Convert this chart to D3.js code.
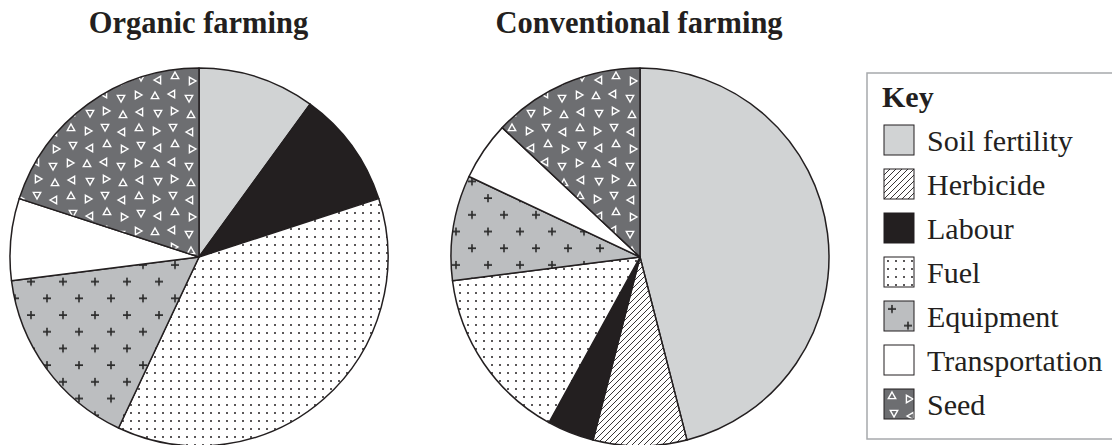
<!DOCTYPE html>
<html>
<head>
<meta charset="utf-8">
<script src="https://cdn.jsdelivr.net/npm/d3@7"></script>
<style>
  body { margin: 0; background: #fff; }
  svg { display: block; }
</style>
</head>
<body>
<svg id="chart" width="1112" height="445"></svg>
<script>
// Data
const categories = ["Soil fertility", "Herbicide", "Labour", "Fuel", "Equipment", "Transportation", "Seed"];
const organicValues = [10, 0, 10, 37, 16, 7, 20];
const conventionalValues = [46, 8, 4, 15, 9, 5, 13];
const chartTitles = ["Organic farming", "Conventional farming"];
const legendTitle = "Key";

const svg = d3.select("#chart");
const defs = svg.append("defs");
const ink = "#231f20";
const serif = "'Liberation Serif', 'Times New Roman', Times, serif";

// Patterns
// herbicide: diagonal hatch
const hatch = defs.append("pattern").attr("id", "p-herbicide")
  .attr("patternUnits", "userSpaceOnUse").attr("width", 6).attr("height", 6);
hatch.append("rect").attr("width", 6).attr("height", 6).attr("fill", "#fff");
hatch.append("path").attr("d", "M-1,1 l2,-2 M0,6 l6,-6 M5,7 l2,-2")
  .attr("stroke", ink).attr("stroke-width", 0.9);

// fuel: dot grid
const dots = defs.append("pattern").attr("id", "p-fuel")
  .attr("patternUnits", "userSpaceOnUse").attr("width", 8).attr("height", 8);
dots.append("rect").attr("width", 8).attr("height", 8).attr("fill", "#fff");
dots.append("circle").attr("cx", 4).attr("cy", 4).attr("r", 1).attr("fill", ink);

// equipment: grey with crosses
const plus = defs.append("pattern").attr("id", "p-equipment")
  .attr("patternUnits", "userSpaceOnUse").attr("width", 32).attr("height", 33.4);
plus.append("rect").attr("width", 32).attr("height", 33.4).attr("fill", "#bcbec0");
[[8, 8], [24, 24.7]].forEach(([cx, cy]) => {
  plus.append("path")
    .attr("d", `M${cx - 4},${cy} h8 M${cx},${cy - 4} v8`)
    .attr("stroke", "#2b2b2b").attr("stroke-width", 1.6);
});

// seed: dark grey with white outlined triangles in mixed directions
const tri = defs.append("pattern").attr("id", "p-seed")
  .attr("patternUnits", "userSpaceOnUse").attr("width", 68).attr("height", 68);
tri.append("rect").attr("width", 68).attr("height", 68).attr("fill", "#6d6e71");
const triSpots = [
  [8, 7, 0], [25, 10, 90], [42, 6, 180], [59, 11, 270],
  [10, 24, 180], [27, 27, 270], [44, 23, 0], [61, 28, 90],
  [7, 42, 90], [24, 43, 0], [41, 41, 270], [58, 45, 180],
  [9, 59, 270], [27, 60, 180], [43, 58, 90], [60, 62, 0]
];
triSpots.forEach(([cx, cy, rot]) => {
  tri.append("path")
    .attr("d", "M0,-4 L3.7,2.6 L-3.7,2.6 Z")
    .attr("transform", `translate(${cx},${cy}) rotate(${rot})`)
    .attr("fill", "none").attr("stroke", "#fff").attr("stroke-width", 1.4);
});

const fills = ["#d1d3d4", "url(#p-herbicide)", ink, "url(#p-fuel)", "url(#p-equipment)", "#fff", "url(#p-seed)"];
const color = d3.scaleOrdinal().domain(categories).range(fills);

// Pies
const radius = 189;
const centres = [[199, 257], [640, 257]];
const pie = d3.pie().sort(null).value(d => d.value);
const arc = d3.arc().innerRadius(0).outerRadius(radius);

[organicValues, conventionalValues].forEach((vals, i) => {
  const rows = categories.map((c, j) => ({ key: c, value: vals[j] })).filter(d => d.value > 0);
  const g = svg.append("g").attr("transform", `translate(${centres[i][0]},${centres[i][1]})`);
  g.selectAll("path").data(pie(rows)).join("path")
    .attr("d", arc)
    .attr("fill", d => color(d.data.key))
    .attr("stroke", ink)
    .attr("stroke-width", 1.5)
    .attr("stroke-linejoin", "round");

  svg.append("text")
    .attr("x", i === 0 ? 198.5 : 639)
    .attr("y", 33)
    .attr("text-anchor", "middle")
    .attr("font-family", serif)
    .attr("font-size", 30.5)
    .attr("font-weight", "bold")
    .attr("fill", ink)
    .text(chartTitles[i]);
});

// Legend
const legend = svg.append("g");
legend.append("rect")
  .attr("x", 867).attr("y", 73).attr("width", 260).attr("height", 366)
  .attr("fill", "#fff").attr("stroke", "#a7a9ac").attr("stroke-width", 1.5);
legend.append("text")
  .attr("x", 882).attr("y", 107)
  .attr("font-family", serif)
  .attr("font-size", 30).attr("font-weight", "bold")
  .attr("fill", ink)
  .text(legendTitle);

const rowY = d3.scalePoint().domain(categories).range([125, 389]);
const item = legend.selectAll("g.item").data(categories).join("g")
  .attr("class", "item")
  .attr("transform", d => `translate(884,${rowY(d)})`);
item.append("rect")
  .attr("width", 30).attr("height", 30)
  .attr("fill", d => color(d))
  .attr("stroke", ink).attr("stroke-width", 1);
item.append("text")
  .attr("x", 43).attr("y", 26)
  .attr("font-family", serif)
  .attr("font-size", 30)
  .attr("fill", ink)
  .text(d => d);
</script>
</body>
</html>
